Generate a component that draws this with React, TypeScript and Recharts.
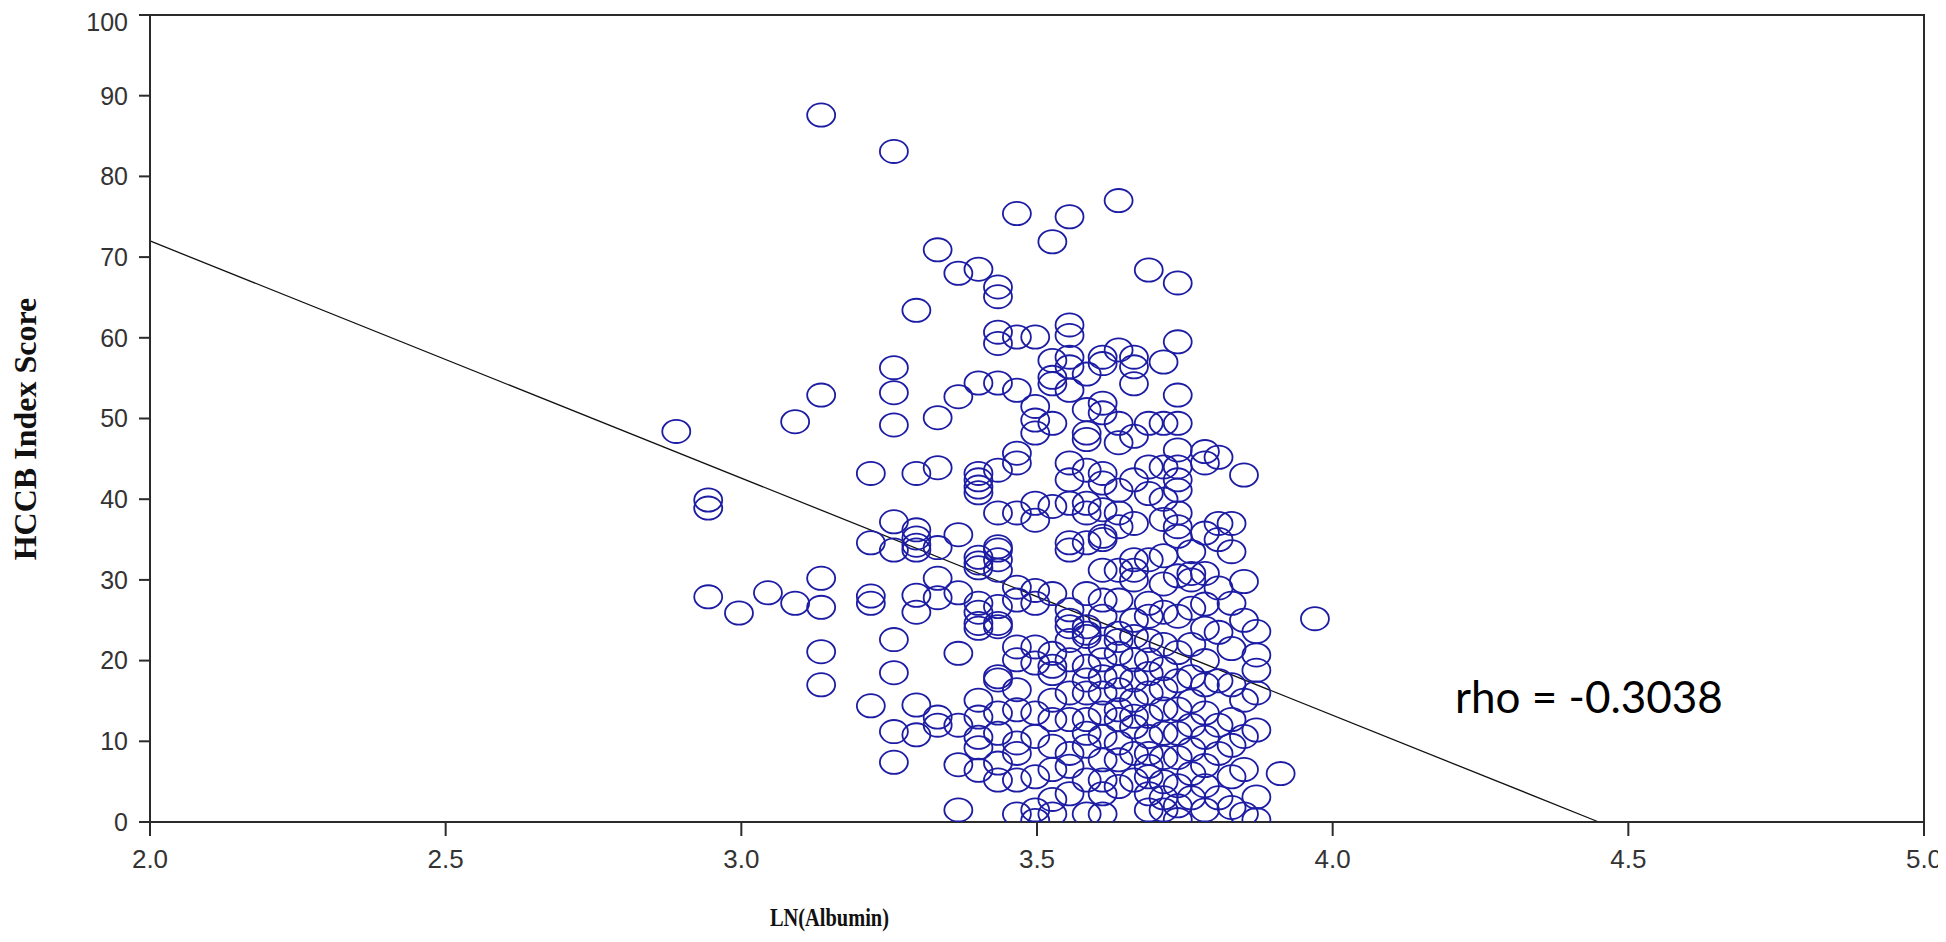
import React from 'react';
import { ScatterChart, Scatter, XAxis, YAxis, ReferenceLine, ReferenceArea } from 'recharts';

// LN(Albumin) column positions
const albuminLn = [
  2.890, 2.944, 2.996, 3.045, 3.091, 3.135, 3.219, 3.258, 3.296, 3.332,
  3.367, 3.401, 3.434, 3.466, 3.497, 3.526, 3.555, 3.584, 3.611, 3.638,
  3.664, 3.689, 3.714, 3.738, 3.761, 3.784, 3.807, 3.829, 3.850, 3.871,
  3.912, 3.970,
];

// HCCB Index Score values in each column
const scoreByColumn: number[][] = [
  [48.4],
  [39.9, 38.9, 27.9],
  [25.9],
  [28.4],
  [49.6, 27.1],
  [87.6, 52.9, 30.2, 26.6, 21.1, 17.0],
  [43.2, 34.6, 28.0, 27.1, 14.4],
  [83.1, 56.3, 53.2, 49.2, 37.2, 33.7, 22.6, 18.5, 11.2, 7.4],
  [63.4, 43.2, 36.2, 35.2, 34.3, 33.7, 28.1, 26.0, 14.5, 10.8],
  [70.9, 50.1, 43.9, 34.0, 30.2, 27.8, 13.0, 12.0],
  [68.0, 52.7, 35.6, 28.4, 20.9, 12.0, 7.1, 1.5],
  [68.5, 54.4, 43.2, 42.4, 41.5, 40.8, 32.8, 32.1, 31.5, 27.1, 26.0, 24.6, 24.0, 15.1, 13.0, 10.5, 9.2, 6.4],
  [66.3, 65.1, 60.7, 59.3, 54.4, 43.6, 38.3, 34.1, 33.7, 32.5, 31.2, 26.7, 24.6, 24.2, 18.0, 17.6, 13.5, 11.0, 7.3, 5.2],
  [75.4, 60.1, 53.5, 45.7, 44.5, 38.3, 29.1, 27.5, 21.7, 20.1, 16.4, 13.9, 9.8, 8.5, 5.2, 1.0],
  [60.1, 51.5, 49.8, 48.2, 39.5, 37.4, 28.7, 27.1, 21.7, 19.7, 13.5, 10.6, 5.6, 1.5, 0.2],
  [71.9, 57.2, 55.1, 54.3, 49.4, 39.1, 28.3, 20.9, 19.3, 18.4, 15.1, 12.7, 9.4, 6.5, 2.8, 1.0],
  [75.0, 61.6, 60.3, 57.6, 56.4, 53.5, 44.5, 42.4, 39.5, 34.6, 33.7, 26.3, 25.0, 24.2, 22.5, 20.1, 16.0, 12.7, 8.5, 6.9, 3.5],
  [55.5, 51.1, 48.2, 47.4, 43.6, 39.5, 38.3, 34.6, 28.3, 24.2, 23.4, 23.0, 19.3, 17.6, 16.0, 12.7, 11.0, 9.4, 5.2, 1.0],
  [57.6, 56.8, 51.9, 50.7, 43.2, 42.0, 38.7, 35.4, 35.0, 31.2, 27.5, 25.5, 21.7, 20.1, 18.0, 16.0, 13.5, 10.6, 7.7, 5.2, 3.5, 1.0],
  [77.0, 58.5, 49.4, 47.0, 41.1, 38.3, 36.6, 31.2, 27.5, 23.4, 22.5, 20.9, 18.0, 16.4, 13.9, 12.7, 9.8, 7.7, 4.4],
  [57.6, 56.4, 54.3, 47.8, 42.4, 37.0, 32.5, 31.2, 30.0, 25.0, 23.0, 20.1, 17.6, 15.1, 13.1, 11.8, 8.5, 5.2],
  [68.4, 49.4, 44.0, 40.7, 32.5, 27.1, 25.5, 22.5, 20.1, 18.4, 16.0, 13.1, 10.6, 8.5, 6.9, 5.6, 3.5, 1.5],
  [57.0, 49.4, 44.0, 40.0, 37.5, 33.0, 29.5, 26.0, 22.0, 19.0, 16.5, 14.0, 11.0, 8.0, 5.0, 3.0, 1.5],
  [66.8, 59.5, 52.9, 49.4, 46.1, 44.0, 42.4, 41.1, 38.3, 36.6, 35.4, 30.5, 25.5, 21.0, 17.5, 14.0, 11.0, 8.0, 4.5, 2.0, 0.3],
  [33.5, 30.8, 30.0, 26.5, 22.0, 18.0, 15.0, 12.0, 9.0, 6.0, 3.0],
  [45.9, 44.5, 35.8, 30.8, 27.0, 24.0, 20.0, 17.0, 13.5, 10.5, 7.0, 4.5, 1.5],
  [45.2, 37.0, 35.0, 29.0, 23.5, 17.5, 12.0, 8.5, 3.0],
  [37.0, 33.5, 27.1, 21.5, 17.0, 12.7, 9.5, 5.6, 1.8],
  [43.0, 29.8, 25.0, 15.1, 10.6, 6.5, 1.0],
  [23.6, 20.7, 18.8, 16.0, 11.4, 3.1, 0.3],
  [6.0],
  [25.2],
];

const xTicks = [2.0, 2.5, 3.0, 3.5, 4.0, 4.5, 5.0];
const yTicks = [0, 10, 20, 30, 40, 50, 60, 70, 80, 90, 100];

// fitted regression line end points
const fitLineX = [2.0, 4.45];
const fitLineY = [72, 0];

const rhoText = 'rho = -0.3038';
const xTitle = 'LN(Albumin)';
const yTitle = 'HCCB Index Score';

const points = albuminLn.flatMap((x, i) => scoreByColumn[i].map((y) => ({ x, y })));

const W = 1938;
const H = 926;
const AXIS = '#2b2b2b';

function EllipseMark(props: any) {
  const { cx, cy } = props;
  if (cx == null || cy == null) return null;
  return (
    <ellipse cx={cx} cy={cy} rx={14} ry={11.6} fill="none" stroke="#1c1ca4" strokeWidth={1.8} />
  );
}

export default function App() {
  return (
    <div style={{ position: 'relative', width: W, height: H }}>
      <ScatterChart width={W} height={H} margin={{ top: 7, right: 22, bottom: 0, left: 0 }}>
        <XAxis
          type="number"
          dataKey="x"
          domain={[2, 5]}
          ticks={xTicks}
          allowDataOverflow
          tickFormatter={(v: number) => v.toFixed(1)}
          height={112}
          tickSize={14}
          tickMargin={14}
          axisLine={{ stroke: AXIS, strokeWidth: 2 }}
          tickLine={{ stroke: AXIS, strokeWidth: 2 }}
          tick={{ fill: '#333', fontSize: 26, fontFamily: 'Liberation Sans, Arial, sans-serif' }}
        />
        <YAxis
          type="number"
          dataKey="y"
          domain={[0, 100]}
          ticks={yTicks}
          allowDataOverflow
          width={142}
          tickSize={11}
          tickMargin={11}
          axisLine={{ stroke: AXIS, strokeWidth: 2 }}
          tickLine={{ stroke: AXIS, strokeWidth: 2 }}
          tick={{ fill: '#333', fontSize: 25, fontFamily: 'Liberation Sans, Arial, sans-serif' }}
        />
        <ReferenceArea x1={2} x2={5} y1={0} y2={100} fill="none" stroke={AXIS} strokeWidth={2} ifOverflow="visible" />
        <ReferenceLine
          segment={[
            { x: fitLineX[0], y: fitLineY[0] },
            { x: fitLineX[1], y: fitLineY[1] },
          ]}
          stroke="#111"
          strokeWidth={1.3}
          ifOverflow="visible"
        />
        <Scatter data={points} shape={<EllipseMark />} isAnimationActive={false} />
      </ScatterChart>
      <svg
        width={W}
        height={H}
        style={{ position: 'absolute', left: 0, top: 0, pointerEvents: 'none', overflow: 'visible' }}
      >
        <text
          x={1447}
          y={705}
          fontFamily="Lato, 'Open Sans', sans-serif"
          fontSize={44}
          fill="#000"
        >
          {rhoText}
        </text>
        <text
          x={762}
          y={918}
          textLength={119}
          lengthAdjust="spacingAndGlyphs"
          fontFamily="'Liberation Serif', 'Times New Roman', serif"
          fontWeight="bold"
          fontSize={26}
          fill="#111"
        >
          {xTitle}
        </text>
        <text
          x={17}
          y={421}
          textAnchor="middle"
          dominantBaseline="central"
          transform="rotate(-90 17 421)"
          fontFamily="'Liberation Serif', 'Times New Roman', serif"
          fontWeight="bold"
          fontSize={32}
          fill="#111"
        >
          {yTitle}
        </text>
      </svg>
    </div>
  );
}
